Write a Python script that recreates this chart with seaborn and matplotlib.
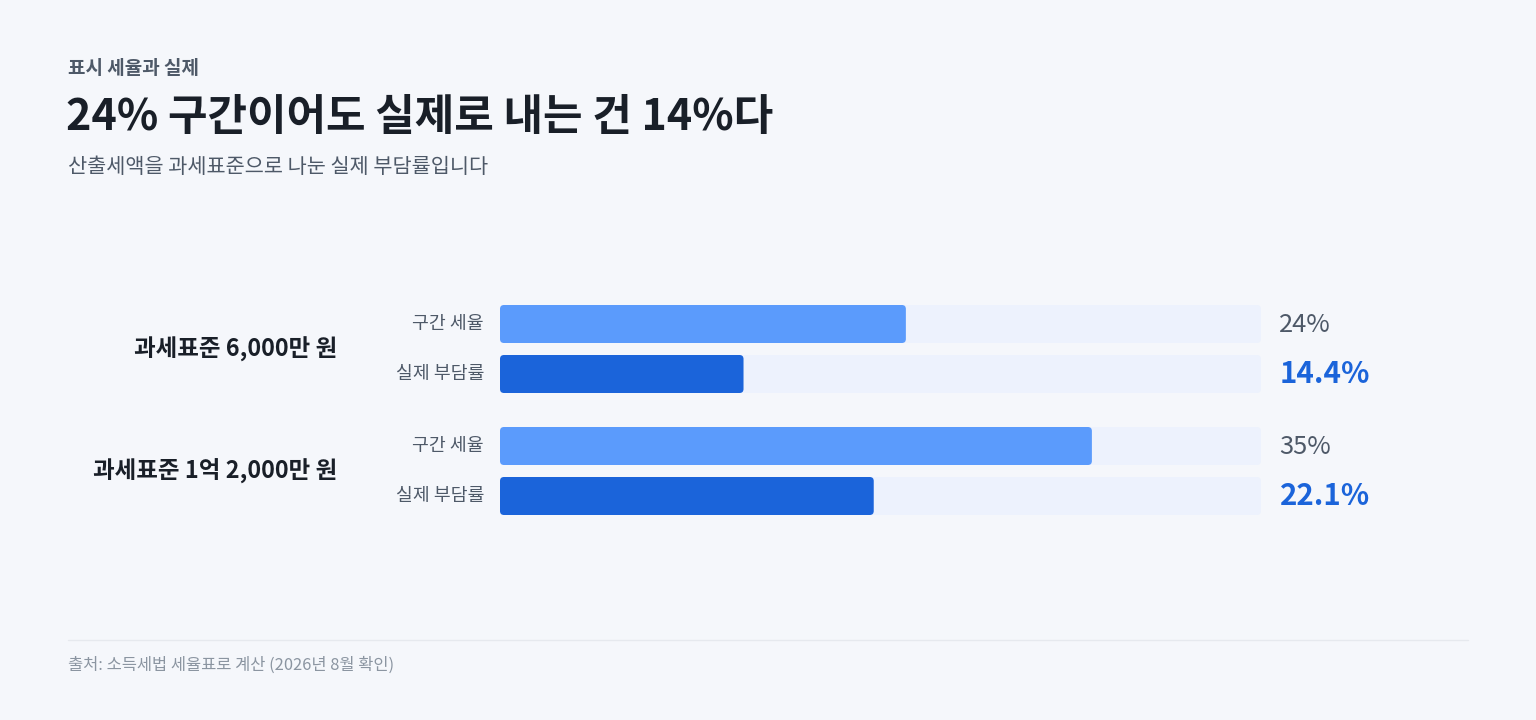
import pandas as pd
import matplotlib
matplotlib.use("Agg")
import matplotlib.pyplot as plt
from matplotlib.patches import FancyBboxPatch
import seaborn as sns

# data
groups = ["과세표준 6,000만 원", "과세표준 1억 2,000만 원"]
metrics = ["구간 세율", "실제 부담률"]
bracket_rate = [24, 35]
effective_rate = [14.4, 22.1]
value_labels = [["24%", "14.4%"], ["35%", "22.1%"]]
x_max = 45

eyebrow = "표시 세율과 실제"
title = "24% 구간이어도 실제로 내는 건 14%다"
subtitle = "산출세액을 과세표준으로 나눈 실제 부담률입니다"
source = "출처: 소득세법 세율표로 계산 (2026년 8월 확인)"

BG = "#F5F7FB"
TRACK = "#EDF2FD"
LIGHT = "#5B9BFC"
DARK = "#1B64DA"
INK = "#191F28"
GREY = "#4E5968"
MUTED = "#8B95A1"

sns.set_theme(style="white")
plt.rcParams["font.family"] = ["Noto Sans CJK KR", "DejaVu Sans"]

W, H = 1536, 720
fig = plt.figure(figsize=(W / 100, H / 100), dpi=100, facecolor=BG)


def px_axes(left, top, right, bottom):
    return fig.add_axes([left / W, 1 - bottom / H, (right - left) / W, (bottom - top) / H])


def pt(px):
    return px * 0.72


# header
fig.text(68 / W, 1 - 68 / H, eyebrow, fontsize=pt(19), color=GREY, weight="bold", va="center")
fig.text(66 / W, 1 - 117 / H, title, fontsize=pt(43), color=INK, weight="bold", va="center")
fig.text(68 / W, 1 - 167 / H, subtitle, fontsize=pt(20.8), color=GREY, va="center")

# footer
fig.add_artist(plt.Line2D([68 / W, 1468 / W], [1 - 640 / H, 1 - 640 / H], color="#E6E9EE", lw=1))
fig.text(68 / W, 1 - 665 / H, source, fontsize=pt(16.5), color=MUTED, va="center")

bar_colors = {metrics[0]: LIGHT, metrics[1]: DARK}
tops = [305, 427]

for gi, group in enumerate(groups):
    ax = px_axes(500, tops[gi], 1261, tops[gi] + 88)
    ax.set_facecolor("none")
    df = pd.DataFrame({"지표": metrics, "값": [bracket_rate[gi], effective_rate[gi]]})
    sns.barplot(data=df, y="지표", x="값", hue="지표", palette=bar_colors, saturation=1,
                orient="h", width=0.76, legend=False, ax=ax)
    ax.set_xlim(0, x_max)
    ax.set_ylim(1.38, -0.38)
    ax.axis("off")

    # rounded bars on top of a light full-width track
    aspect = (1 / 50) / (x_max / 761)
    r = 4 * x_max / 761
    for p in list(ax.patches):
        x0, y0, w, h = p.get_x(), p.get_y(), p.get_width(), p.get_height()
        color = p.get_facecolor()
        p.remove()
        ax.add_patch(FancyBboxPatch((0, y0), x_max, h, boxstyle=f"round,pad=0,rounding_size={r}",
                                    mutation_aspect=aspect, fc=TRACK, ec="none", zorder=1))
        ax.add_patch(FancyBboxPatch((x0, y0), w, h, boxstyle=f"round,pad=0,rounding_size={r}",
                                    mutation_aspect=aspect, fc=color, ec="none", zorder=2))

    for mi, metric in enumerate(metrics):
        ax.annotate(metric, xy=(0, mi), xycoords=("axes fraction", "data"),
                    xytext=(-16, 0), textcoords="offset pixels",
                    ha="right", va="center", fontsize=pt(18.3), color=GREY)
        if mi == 0:
            ax.annotate(value_labels[gi][mi], xy=(1, mi), xycoords=("axes fraction", "data"),
                        xytext=(18, -1), textcoords="offset pixels",
                        ha="left", va="center", fontsize=pt(25.5), color=GREY)
        else:
            ax.annotate(value_labels[gi][mi], xy=(1, mi), xycoords=("axes fraction", "data"),
                        xytext=(19, 0), textcoords="offset pixels",
                        ha="left", va="center", fontsize=pt(29.5), color=DARK, weight="bold")

    ax.annotate(group, xy=(0, 0.5), xycoords=("axes fraction", "data"),
                xytext=(-163, 0), textcoords="offset pixels",
                ha="right", va="center", fontsize=pt(23.5), color=INK, weight="bold")

fig.savefig("out.png", dpi=100, facecolor=BG)
